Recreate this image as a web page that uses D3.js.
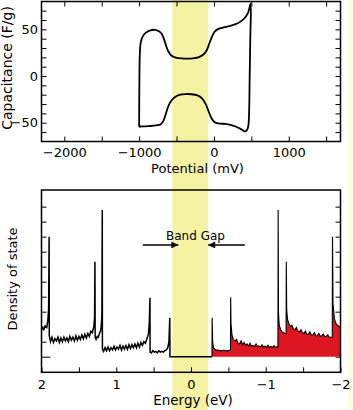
<!DOCTYPE html>
<html>
<head>
<meta charset="utf-8">
<script src="https://cdn.jsdelivr.net/npm/d3@7"></script>
<style>
  body { margin: 0; background: #fff; }
  svg { display: block; font-family: "DejaVu Sans", sans-serif; }
</style>
</head>
<body>
<div id="viz"></div>
<script>
// capacitance loop (mV, F/g)
const cvLoop = [
  [-1000, -54.3], [-996, 0], [-990, 25], [-978, 36], [-955, 42], [-910, 46.5],
  [-850, 49], [-790, 49.5], [-735, 48], [-700, 45.5], [-670, 40], [-640, 32.5],
  [-610, 26.5], [-570, 22], [-510, 19.8], [-430, 18.8], [-360, 18.6], [-280, 19],
  [-200, 20.3], [-140, 23], [-100, 27], [-65, 34], [-30, 41.5], [10, 47.5],
  [60, 50.5], [130, 52], [210, 53.5], [290, 55.5], [360, 58.5], [420, 63],
  [460, 68.5], [490, 77.5],
  [486, 40], [478, 0], [470, -40], [462, -52], [450, -56.5], [430, -58.8],
  [410, -59.2], [385, -58], [350, -56.3], [290, -54], [220, -52.2], [150, -51.3],
  [60, -50.8], [10, -49.5], [-30, -45.5], [-70, -38], [-110, -30], [-160, -24],
  [-220, -20.8], [-300, -19.5], [-380, -19.3], [-460, -20.2], [-520, -22.5],
  [-570, -26.5], [-610, -32.5], [-645, -41], [-675, -48], [-710, -51.5],
  [-770, -52.8], [-870, -53.6], [-960, -54], [-1000, -54.3]
];

// density of states (eV, arb.), positive energy side
const dosUpper = [
  [2.00, 1.75], [1.99, 1.95], [1.97, 1.8], [1.95, 2.05], [1.93, 1.95], [1.915, 2.4],
  [1.905, 3.2], [1.898, 8.0], [1.896, 1.4],
  [1.88, 1.0], [1.86, 1.3], [1.84, 0.95], [1.82, 1.2], [1.80, 1.05], [1.78, 1.3],
  [1.76, 0.95], [1.74, 1.25], [1.72, 1.0], [1.70, 1.3], [1.68, 1.05], [1.66, 1.25],
  [1.64, 1.0], [1.62, 1.35], [1.60, 1.1], [1.58, 1.3], [1.56, 1.05], [1.54, 1.4],
  [1.52, 1.1], [1.50, 1.35], [1.48, 1.15], [1.46, 1.45], [1.44, 1.2], [1.42, 1.5],
  [1.40, 1.25], [1.38, 1.55], [1.36, 1.35], [1.34, 1.7], [1.32, 1.6], [1.30, 2.0],
  [1.29, 2.6], [1.285, 6.33], [1.282, 1.3],
  [1.27, 1.15], [1.255, 1.35], [1.24, 1.3], [1.225, 1.55], [1.21, 1.7], [1.20, 2.1],
  [1.192, 2.8], [1.187, 9.78], [1.185, 0.5],
  [1.17, 0.35], [1.15, 0.6], [1.13, 0.4], [1.11, 0.65], [1.09, 0.4], [1.07, 0.6],
  [1.05, 0.45], [1.03, 0.7], [1.01, 0.45], [0.99, 0.65], [0.97, 0.5], [0.95, 0.75],
  [0.93, 0.45], [0.91, 0.7], [0.89, 0.5], [0.87, 0.75], [0.85, 0.5], [0.83, 0.8],
  [0.81, 0.55], [0.79, 0.8], [0.77, 0.6], [0.75, 0.85], [0.73, 0.6], [0.71, 0.9],
  [0.69, 0.65], [0.67, 0.95], [0.65, 0.75], [0.63, 1.0], [0.61, 0.9], [0.59, 1.2],
  [0.57, 1.5], [0.557, 2.3], [0.549, 3.93], [0.547, 0.3],
  [0.53, 0.25], [0.51, 0.4], [0.49, 0.3], [0.47, 0.35], [0.45, 0.25], [0.43, 0.4],
  [0.41, 0.3], [0.39, 0.35], [0.37, 0.3], [0.35, 0.4], [0.33, 0.45], [0.31, 0.6],
  [0.295, 1.0], [0.284, 2.6], [0.281, 0]
];

// negative energy side, drawn filled
const dosLower = [
  [-0.281, 0], [-0.283, 2.6], [-0.29, 1.0], [-0.30, 0.6], [-0.32, 0.5], [-0.34, 0.42],
  [-0.36, 0.45], [-0.38, 0.38], [-0.40, 0.42], [-0.42, 0.38], [-0.44, 0.44],
  [-0.46, 0.38], [-0.48, 0.42], [-0.50, 0.4], [-0.52, 0.45], [-0.528, 0.45],
  [-0.531, 3.96],
  [-0.535, 2.2], [-0.55, 1.4], [-0.57, 1.1], [-0.59, 1.05], [-0.61, 1.15], [-0.63, 0.9],
  [-0.65, 0.85], [-0.67, 1.05], [-0.69, 0.8], [-0.71, 0.95], [-0.73, 0.75], [-0.75, 0.85],
  [-0.77, 0.7], [-0.79, 0.9], [-0.81, 0.7], [-0.83, 0.75], [-0.85, 0.68], [-0.87, 0.85],
  [-0.89, 0.66], [-0.91, 0.72], [-0.93, 0.65], [-0.95, 0.8], [-0.97, 0.64], [-0.99, 0.7],
  [-1.01, 0.63], [-1.03, 0.76], [-1.05, 0.62], [-1.07, 0.68], [-1.09, 0.62], [-1.11, 0.74],
  [-1.13, 0.62], [-1.15, 0.66], [-1.163, 0.65], [-1.166, 9.78],
  [-1.17, 3.0], [-1.18, 2.1], [-1.20, 1.8], [-1.22, 1.65], [-1.24, 1.6], [-1.26, 1.55],
  [-1.272, 1.55], [-1.275, 6.33],
  [-1.28, 3.2], [-1.29, 2.5], [-1.31, 2.2], [-1.33, 2.0], [-1.35, 2.1], [-1.37, 1.85],
  [-1.39, 1.8], [-1.41, 1.95], [-1.43, 1.7], [-1.45, 1.65], [-1.47, 1.8], [-1.49, 1.6],
  [-1.51, 1.55], [-1.53, 1.7], [-1.55, 1.5], [-1.57, 1.5], [-1.59, 1.65], [-1.61, 1.45],
  [-1.63, 1.45], [-1.65, 1.6], [-1.67, 1.4], [-1.69, 1.4], [-1.71, 1.55], [-1.73, 1.35],
  [-1.75, 1.4], [-1.77, 1.5], [-1.79, 1.35], [-1.81, 1.35], [-1.83, 1.45], [-1.85, 1.3],
  [-1.87, 1.3], [-1.89, 1.3], [-1.893, 8.0],
  [-1.90, 3.5], [-1.92, 2.5], [-1.94, 2.2], [-1.96, 2.1], [-1.98, 2.0], [-2.00, 1.95]
];

const bandGap = [0.25, -0.23];          // eV, shaded strip
const arrowLeft = [0.645, 0.17];        // eV
const arrowRight = [-0.72, -0.23];      // eV
const arrowLevel = 7.45;
const potentialTicks = [-2000, -1500, -1000, -500, 0, 500, 1000, 1500];
const capacitanceTicks = [-60, -50, -40, -30, -20, -10, 0, 10, 20, 30, 40, 50, 60, 70];
const energyTicks = [2, 1.5, 1, 0.5, 0, -0.5, -1, -1.5, -2];
const dosTicks = [0, 1, 2, 3, 4, 5, 6, 7, 8, 9, 10];

const W = 353, H = 410;
const left = 41.5, right = 340.5;

const svg = d3.select("#viz")
  .append("svg")
    .attr("width", W)
    .attr("height", H);

const xCv = d3.scaleLinear().domain([-2305, 1692]).range([left, right]);
const yCv = d3.scaleLinear().domain([-70.1, 79.8]).range([141.5, 1.5]);
const xE = d3.scaleLinear().domain([2, -2]).range([left, right]);
const yD = d3.scaleLinear().domain([-1.04, 11.11]).range([372.3, 190]);

const fmt = d3.format("d");

// faint strip on the far right edge and the yellow band gap strip
svg.append("rect")
  .attr("x", 348).attr("y", 0).attr("width", 5).attr("height", H)
  .style("fill", "#fcfadf");

svg.append("rect")
  .attr("x", xE(bandGap[0]))
  .attr("y", 0)
  .attr("width", xE(bandGap[1]) - xE(bandGap[0]))
  .attr("height", H)
  .style("fill", "#f6f2a4");

function styleAxis(g, size) {
  g.select(".domain").remove();
  g.selectAll(".tick line").attr("stroke", "#000").attr("stroke-width", 1);
  g.selectAll(".tick text")
    .attr("fill", "#000")
    .style("font-family", "'DejaVu Sans', sans-serif")
    .style("font-size", size + "px");
}

// ---------- top panel ----------
const cvPanel = svg.append("g");

cvPanel.append("g")
  .attr("transform", `translate(0,${yCv.range()[0]})`)
  .call(d3.axisBottom(xCv).tickValues(potentialTicks).tickSize(-5).tickPadding(6.5)
    .tickFormat(d => d % 1000 === 0 ? fmt(d) : ""))
  .call(g => styleAxis(g, 13));

cvPanel.append("g")
  .attr("transform", `translate(0,${yCv.range()[1]})`)
  .call(d3.axisTop(xCv).tickValues(potentialTicks).tickSize(-5).tickFormat(""))
  .call(g => styleAxis(g, 13));

cvPanel.append("g")
  .attr("transform", `translate(${left},0)`)
  .call(d3.axisLeft(yCv).tickValues(capacitanceTicks).tickSize(-5).tickPadding(3.5)
    .tickFormat(d => d % 50 === 0 ? fmt(d) : ""))
  .call(g => styleAxis(g, 13));

cvPanel.append("g")
  .attr("transform", `translate(${right},0)`)
  .call(d3.axisRight(yCv).tickValues(capacitanceTicks).tickSize(-5).tickFormat(""))
  .call(g => styleAxis(g, 13));

cvPanel.append("path")
  .datum(cvLoop)
  .attr("d", d3.line()
    .x(d => xCv(d[0]))
    .y(d => yCv(d[1]))
    .curve(d3.curveCatmullRom.alpha(0.5)))
  .style("fill", "none")
  .style("stroke", "#000")
  .style("stroke-width", 1.8);

cvPanel.append("rect")
  .attr("x", left).attr("y", 1.5)
  .attr("width", right - left).attr("height", 140)
  .style("fill", "none").style("stroke", "#000").style("stroke-width", 1.5);

cvPanel.append("text")
  .attr("x", 197.5).attr("y", 172.5)
  .attr("text-anchor", "middle")
  .style("font-size", "13px")
  .text("Potential (mV)");

cvPanel.append("text")
  .attr("transform", "translate(12,68) rotate(-90)")
  .attr("text-anchor", "middle")
  .style("font-size", "14px")
  .text("Capacitance (F/g)");

// ---------- bottom panel ----------
const dosPanel = svg.append("g");

dosPanel.append("g")
  .attr("transform", `translate(0,${yD.range()[0]})`)
  .call(d3.axisBottom(xE).tickValues(energyTicks).tickSize(-5).tickPadding(7.5)
    .tickFormat(d => Number.isInteger(d) ? fmt(d) : ""))
  .call(g => styleAxis(g, 13));

dosPanel.append("g")
  .attr("transform", `translate(${left},0)`)
  .call(d3.axisLeft(yD).tickValues(dosTicks).tickSize(-5).tickFormat(""))
  .call(g => styleAxis(g, 13))
  .call(g => g.selectAll(".tick line").filter(d => d === 0).attr("x2", 9));

dosPanel.append("g")
  .attr("transform", `translate(${right},0)`)
  .call(d3.axisRight(yD).tickValues(dosTicks).tickSize(-5).tickFormat(""))
  .call(g => styleAxis(g, 13));

dosPanel.append("path")
  .datum(dosLower)
  .attr("d", d3.area()
    .x(d => xE(d[0]))
    .y0(yD(0))
    .y1(d => yD(d[1])))
  .style("fill", "#dc1722");

const dosLine = d3.line()
  .x(d => xE(d[0]))
  .y(d => yD(d[1]));

// the noisy positive side reads as a heavier trace
dosPanel.append("path")
  .datum(dosUpper.concat([dosLower[0]]))
  .attr("d", dosLine)
  .style("fill", "none")
  .style("stroke", "#000")
  .style("stroke-width", 1.5);

dosPanel.append("path")
  .datum(dosLower)
  .attr("d", dosLine)
  .style("fill", "none")
  .style("stroke", "#000")
  .style("stroke-width", 1.1);

dosPanel.append("rect")
  .attr("x", left).attr("y", 190)
  .attr("width", right - left).attr("height", 372.3 - 190)
  .style("fill", "none").style("stroke", "#000").style("stroke-width", 1.5);

svg.append("defs").append("marker")
  .attr("id", "head")
  .attr("viewBox", "0 0 10 10")
  .attr("refX", 10).attr("refY", 5)
  .attr("markerWidth", 8).attr("markerHeight", 7)
  .attr("markerUnits", "userSpaceOnUse")
  .attr("orient", "auto")
  .append("path")
    .attr("d", "M0,0L10,5L0,10z")
    .style("fill", "#000");

[arrowLeft, arrowRight].forEach(a => {
  dosPanel.append("line")
    .attr("x1", xE(a[0])).attr("x2", xE(a[1]))
    .attr("y1", yD(arrowLevel)).attr("y2", yD(arrowLevel))
    .style("stroke", "#000")
    .style("stroke-width", 1.5)
    .attr("marker-end", "url(#head)");
});

dosPanel.append("text")
  .attr("x", xE(-0.06)).attr("y", 240)
  .attr("text-anchor", "middle")
  .style("font-size", "12px")
  .text("Band Gap");

dosPanel.append("text")
  .attr("x", 193).attr("y", 405)
  .attr("text-anchor", "middle")
  .style("font-size", "13.5px")
  .text("Energy (eV)");

dosPanel.append("text")
  .attr("transform", "translate(16.5,279) rotate(-90)")
  .attr("text-anchor", "middle")
  .style("font-size", "13px")
  .text("Density of state");
</script>
</body>
</html>
